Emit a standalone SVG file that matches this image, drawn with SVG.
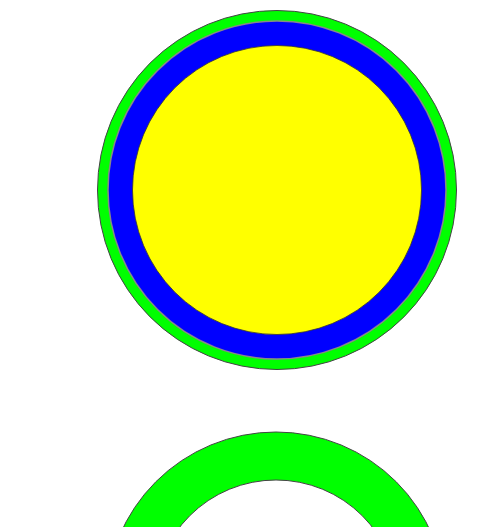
<svg xmlns="http://www.w3.org/2000/svg" width="491" height="527" viewBox="0 0 491 527">
<style>
.ol{stroke:#444;stroke-width:1}
</style>
<rect width="491" height="527" fill="#fff"/>
<g id="top-circle">
<circle cx="277" cy="190" r="179.5" fill="#00ff00" class="ol"/>
<circle cx="277" cy="190" r="169" fill="#0000ff" stroke="#888" stroke-width="1.5"/>
<circle cx="277" cy="190" r="144.5" fill="#ffff00" stroke="#333" stroke-width="0.8"/>
</g>
<g id="bottom-ring">
<path d="M 106 602 A 170 170 0 0 1 446 602 A 170 170 0 0 1 106 602 Z M 154 602 A 122 122 0 0 0 398 602 A 122 122 0 0 0 154 602 Z" fill="#00ff00" fill-rule="evenodd" class="ol"/>
</g>
<g id="connectors"/>
</svg>
